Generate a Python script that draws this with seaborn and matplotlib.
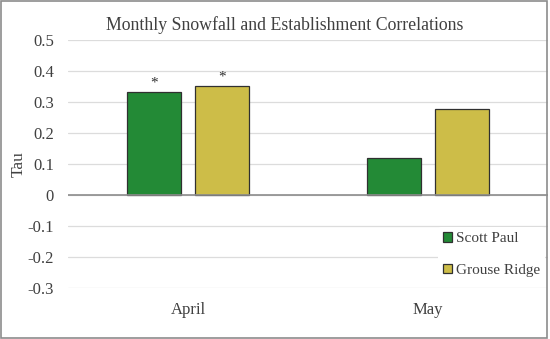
import numpy as np
import pandas as pd
import seaborn as sns
import matplotlib
matplotlib.use('Agg')
import matplotlib.pyplot as plt
from matplotlib.patches import Rectangle

months = ['April', 'May']
sites = ['Scott Paul', 'Grouse Ridge']
scott_paul = [0.331, 0.118]
grouse_ridge = [0.352, 0.276]
# significance marks per site, per month
sig_scott = ['*', '']
sig_grouse = ['*', '']
y_ticks = [-0.3, -0.2, -0.1, 0, 0.1, 0.2, 0.3, 0.4, 0.5]
tick_labels = ['-0.3', '-0.2', '-0.1', '0', '0.1', '0.2', '0.3', '0.4', '0.5']

df = pd.DataFrame({'Month': months * 2,
                   'Site': [sites[0]] * 2 + [sites[1]] * 2,
                   'Tau': scott_paul + grouse_ridge,
                   'Sig': sig_scott + sig_grouse})

sns.set_style('white')
plt.rcParams['font.family'] = ['Liberation Serif', 'DejaVu Serif']
txt_col = '#404040'

fig = plt.figure(figsize=(5.5, 3.39), dpi=100)
ax = fig.add_axes([0.1236, 0.1504, 0.8727, 0.7316])

palette = {'Scott Paul': '#238a36', 'Grouse Ridge': '#cdbd48'}
sns.barplot(data=df, x='Month', y='Tau', hue='Site', order=months, hue_order=sites,
            palette=palette, width=0.567, gap=0.2, edgecolor='#303030', linewidth=0.9,
            saturation=1, ax=ax, zorder=3)

# seaborn draws bars hue by hue, so patches follow df order (site, then month)
bars = [p for p in ax.patches if p.get_height() != 0]
for bar, s in zip(bars, df['Sig']):
    if s:
        ax.text(bar.get_x() + bar.get_width() / 2, bar.get_height() + 0.008, s,
                ha='center', va='bottom', fontsize=11, color='#303030')

ax.set_xlim(-0.5, 1.5)
ax.set_ylim(-0.3, 0.5)
ax.set_yticks(y_ticks)
ax.set_yticklabels(tick_labels)
ax.grid(axis='y', color='#dcdcdc', linewidth=0.9, zorder=0)
ax.axhline(0, color='#8c8c8c', linewidth=1.2, zorder=4)
for sp in ax.spines.values():
    sp.set_visible(False)
ax.tick_params(axis='y', length=0, pad=10, labelsize=12, labelcolor=txt_col)
ax.tick_params(axis='x', length=0, pad=10, labelsize=12, labelcolor=txt_col)
ax.set_xlabel('')
ax.set_ylabel('Tau', fontsize=12.5, color=txt_col, labelpad=1)
fig.text(0.518, 0.925, 'Monthly Snowfall and Establishment Correlations',
         fontsize=12.8, color=txt_col, ha='center', va='center')

leg = ax.legend(loc='upper left', bbox_to_anchor=(0.755, 0.275), frameon=True,
                fontsize=11, handlelength=0.6, handleheight=0.6, handletextpad=0.3,
                labelspacing=1.2, borderpad=0.3, framealpha=1)
leg.get_frame().set_edgecolor('white')
leg.get_frame().set_linewidth(0)
for t in leg.get_texts():
    t.set_color(txt_col)

fig.patches.append(Rectangle((0.002, 0.004), 0.993, 0.992, transform=fig.transFigure,
                             fill=False, edgecolor='#8c8c8c', linewidth=1.2))

fig.savefig('out.png', dpi=100)
